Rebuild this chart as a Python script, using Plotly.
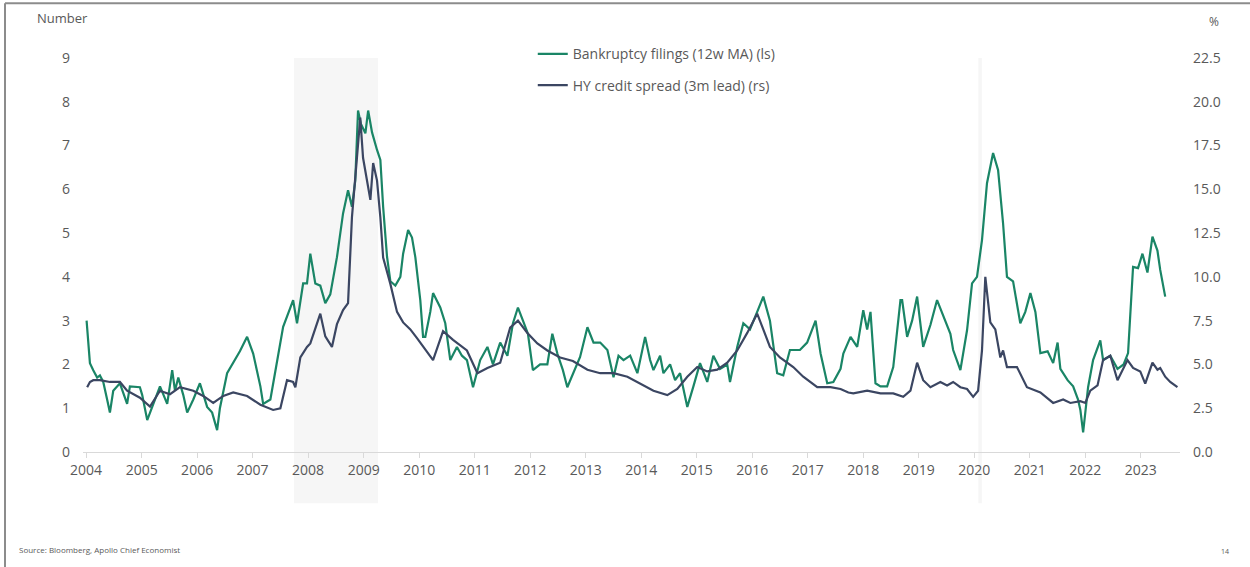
import pandas as pd
import plotly.graph_objects as go

# Bankruptcy filings, 12-week moving average (left axis, number); time in decimal years
filings_year = [
    2004.01, 2004.04, 2004.07, 2004.13, 2004.20, 2004.25, 2004.31, 2004.38, 2004.43, 2004.49,
    2004.61, 2004.74, 2004.79, 2004.97, 2005.01, 2005.10, 2005.21, 2005.33, 2005.46, 2005.55,
    2005.60, 2005.66, 2005.75, 2005.82, 2005.93, 2006.05, 2006.18, 2006.27, 2006.36, 2006.41,
    2006.54, 2006.65, 2006.77, 2006.90, 2007.01, 2007.14, 2007.19, 2007.32, 2007.44, 2007.55,
    2007.68, 2007.73, 2007.80, 2007.86, 2007.91, 2007.98, 2008.04, 2008.13, 2008.22, 2008.31,
    2008.40, 2008.52, 2008.63, 2008.72, 2008.79, 2008.85, 2008.90, 2008.95, 2009.03, 2009.08,
    2009.15, 2009.24, 2009.30, 2009.35, 2009.42, 2009.48, 2009.57, 2009.66, 2009.71, 2009.80,
    2009.87, 2009.93, 2010.02, 2010.07, 2010.11, 2010.20, 2010.25, 2010.38, 2010.47, 2010.56,
    2010.68, 2010.77, 2010.86, 2010.97, 2011.10, 2011.23, 2011.33, 2011.46, 2011.59, 2011.69,
    2011.78, 2011.87, 2011.96, 2012.05, 2012.18, 2012.31, 2012.40, 2012.49, 2012.59, 2012.67,
    2012.77, 2012.90, 2013.03, 2013.14, 2013.26, 2013.39, 2013.50, 2013.59, 2013.68, 2013.80,
    2013.93, 2014.07, 2014.16, 2014.22, 2014.34, 2014.40, 2014.52, 2014.61, 2014.70, 2014.83,
    2014.94, 2015.06, 2015.19, 2015.30, 2015.42, 2015.55, 2015.60, 2015.73, 2015.84, 2015.96,
    2016.09, 2016.20, 2016.32, 2016.45, 2016.56, 2016.68, 2016.86, 2016.99, 2017.14, 2017.23,
    2017.35, 2017.46, 2017.59, 2017.64, 2017.77, 2017.89, 2018.00, 2018.07, 2018.13, 2018.22,
    2018.31, 2018.43, 2018.54, 2018.67, 2018.70, 2018.79, 2018.88, 2018.97, 2019.08, 2019.21,
    2019.33, 2019.44, 2019.57, 2019.62, 2019.75, 2019.87, 2019.96, 2020.05, 2020.14, 2020.23,
    2020.34, 2020.43, 2020.52, 2020.59, 2020.70, 2020.83, 2020.92, 2021.01, 2021.10, 2021.19,
    2021.32, 2021.42, 2021.50, 2021.55, 2021.68, 2021.78, 2021.87, 2021.91, 2021.96, 2022.05,
    2022.14, 2022.27, 2022.32, 2022.45, 2022.58, 2022.69, 2022.77, 2022.86, 2022.95, 2023.03,
    2023.12, 2023.21, 2023.30, 2023.35, 2023.44,
]
filings_value = [
    3.00, 2.60, 2.03, 1.87, 1.70, 1.75, 1.60, 1.20, 0.90, 1.40,
    1.57, 1.10, 1.50, 1.48, 1.30, 0.73, 1.10, 1.50, 1.10, 1.87,
    1.40, 1.70, 1.30, 0.90, 1.20, 1.57, 1.03, 0.90, 0.50, 1.00,
    1.80, 2.03, 2.30, 2.63, 2.25, 1.50, 1.10, 1.20, 2.03, 2.86,
    3.30, 3.47, 2.94, 3.47, 3.85, 3.85, 4.53, 3.85, 3.80, 3.40,
    3.60, 4.45, 5.45, 5.98, 5.60, 6.20, 7.80, 7.50, 7.28, 7.80,
    7.30, 6.90, 6.67, 5.60, 4.46, 3.90, 3.80, 4.00, 4.53, 5.07,
    4.90, 4.45, 3.47, 2.63, 2.63, 3.20, 3.63, 3.30, 2.94, 2.10,
    2.40, 2.20, 2.10, 1.48, 2.10, 2.40, 2.00, 2.50, 2.20, 2.94,
    3.30, 3.00, 2.70, 1.87, 2.00, 2.00, 2.70, 2.25, 1.87, 1.48,
    1.80, 2.17, 2.85, 2.50, 2.50, 2.33, 1.71, 2.20, 2.10, 2.20,
    1.80, 2.63, 2.10, 1.87, 2.20, 1.80, 2.00, 1.64, 1.80, 1.03,
    1.50, 2.03, 1.60, 2.20, 1.90, 2.00, 1.60, 2.40, 2.94, 2.80,
    3.20, 3.55, 3.00, 1.80, 1.75, 2.33, 2.33, 2.50, 3.00, 2.25,
    1.57, 1.60, 1.90, 2.25, 2.63, 2.40, 3.24, 2.80, 3.20, 1.57,
    1.50, 1.50, 1.94, 3.47, 3.47, 2.63, 3.00, 3.55, 2.40, 2.90,
    3.47, 3.10, 2.70, 2.33, 1.87, 2.78, 3.85, 4.00, 4.84, 6.14,
    6.83, 6.44, 5.22, 4.00, 3.90, 2.94, 3.20, 3.63, 3.20, 2.26,
    2.30, 2.03, 2.50, 1.90, 1.64, 1.50, 1.19, 0.96, 0.45, 1.48,
    2.10, 2.55, 2.10, 2.20, 1.90, 2.00, 2.26, 4.23, 4.20, 4.53,
    4.10, 4.92, 4.60, 4.16, 3.55,
]

# High-yield credit spread, 3-month lead (right axis, %)
spread_year = [
    2004.02, 2004.07, 2004.13, 2004.25, 2004.43, 2004.61, 2004.74, 2004.97, 2005.15, 2005.33,
    2005.51, 2005.69, 2005.93, 2006.11, 2006.29, 2006.47, 2006.65, 2006.90, 2007.14, 2007.37,
    2007.50, 2007.62, 2007.73, 2007.77, 2007.86, 2007.98, 2008.04, 2008.13, 2008.22, 2008.31,
    2008.43, 2008.52, 2008.63, 2008.72, 2008.79, 2008.88, 2008.94, 2008.99, 2009.06, 2009.12,
    2009.17, 2009.24, 2009.30, 2009.35, 2009.48, 2009.60, 2009.71, 2009.84, 2009.96, 2010.07,
    2010.25, 2010.43, 2010.61, 2010.86, 2011.05, 2011.23, 2011.46, 2011.64, 2011.78, 2011.95,
    2012.13, 2012.31, 2012.54, 2012.77, 2013.03, 2013.26, 2013.50, 2013.75, 2013.99, 2014.22,
    2014.47, 2014.65, 2014.83, 2015.01, 2015.19, 2015.37, 2015.55, 2015.73, 2015.91, 2016.09,
    2016.20, 2016.32, 2016.50, 2016.74, 2016.92, 2017.17, 2017.41, 2017.59, 2017.73, 2017.82,
    2018.07, 2018.31, 2018.54, 2018.72, 2018.85, 2018.90, 2018.97, 2019.08, 2019.21, 2019.39,
    2019.51, 2019.62, 2019.75, 2019.87, 2019.98, 2020.07, 2020.14, 2020.20, 2020.29, 2020.38,
    2020.47, 2020.52, 2020.59, 2020.77, 2020.95, 2021.19, 2021.42, 2021.60, 2021.73, 2021.91,
    2022.00, 2022.09, 2022.22, 2022.32, 2022.45, 2022.58, 2022.76, 2022.86, 2022.99, 2023.08,
    2023.21, 2023.30, 2023.35, 2023.44, 2023.53, 2023.66,
]
spread_value = [
    3.7, 4.0, 4.1, 4.1, 4.0, 4.0, 3.5, 3.1, 2.6, 3.5,
    3.3, 3.7, 3.5, 3.2, 2.8, 3.2, 3.4, 3.2, 2.7, 2.4,
    2.5, 4.1, 4.0, 3.7, 5.4, 6.0, 6.2, 7.1, 7.9, 6.6,
    6.0, 7.3, 8.1, 8.5, 13.4, 16.8, 19.1, 16.8, 15.4, 14.4,
    16.5, 15.5, 13.4, 11.1, 9.6, 8.0, 7.4, 7.0, 6.5, 6.0,
    5.25, 6.9, 6.4, 5.8, 4.5, 4.8, 5.1, 7.1, 7.5, 6.8,
    6.2, 5.8, 5.4, 5.2, 4.7, 4.5, 4.5, 4.3, 3.9, 3.5,
    3.25, 3.6, 4.3, 4.85, 4.6, 4.7, 5.1, 5.8, 6.8, 7.9,
    7.0, 6.0, 5.4, 4.85, 4.3, 3.7, 3.7, 3.6, 3.4, 3.35,
    3.5, 3.35, 3.35, 3.15, 3.5, 4.1, 5.1, 4.1, 3.7, 4.0,
    3.8, 4.0, 3.7, 3.6, 3.15, 3.5, 5.8, 10.0, 7.4, 7.0,
    5.4, 5.8, 4.85, 4.85, 3.7, 3.4, 2.8, 3.0, 2.8, 2.9,
    2.8, 3.5, 3.8, 5.25, 5.5, 4.1, 5.25, 4.8, 4.6, 3.9,
    5.1, 4.7, 4.8, 4.3, 4.0, 3.7,
]

# Recession periods shaded behind the lines
recessions = [("2007-10-01", "2009-04-05"), ("2020-01-28", "2020-02-20")]

years = list(range(2004, 2024))

GREEN = "#1a8566"
NAVY = "#3b4662"
TEXT = "#595959"
FONT = "Open Sans"


def to_dates(decimal_years):
    out = []
    for t in decimal_years:
        y = int(t)
        start = pd.Timestamp(year=y, month=1, day=1)
        out.append(start + pd.Timedelta(days=(t - y) * 365.25))
    return out


fig = go.Figure()

fig.add_trace(go.Scatter(
    x=to_dates(filings_year), y=filings_value,
    name="Bankruptcy filings (12w MA) (ls)",
    mode="lines", line=dict(color=GREEN, width=2.2),
    legendgroup="a", yaxis="y",
))
fig.add_trace(go.Scatter(
    x=to_dates(spread_year), y=spread_value,
    name="HY credit spread (3m lead) (rs)",
    mode="lines", line=dict(color=NAVY, width=2.2),
    legendgroup="b", yaxis="y2",
))

for start, end in recessions:
    fig.add_shape(type="rect", xref="x", yref="paper", x0=start, x1=end,
                  y0=-0.13, y1=1.0, fillcolor="#f6f6f6", line_width=0, layer="below")

# slide frame
fig.add_shape(type="line", xref="paper", yref="paper", x0=-0.0711, x1=1.07, y0=1.139, y1=1.139,
              line=dict(color="#8c8c8c", width=2))
fig.add_shape(type="line", xref="paper", yref="paper", x0=-0.0711, x1=-0.0711, y0=1.139, y1=-0.3,
              line=dict(color="#8c8c8c", width=2))

fig.add_annotation(text="Number", xref="paper", yref="paper", x=-0.0438, y=1.1015,
                   xanchor="left", yanchor="middle", showarrow=False,
                   font=dict(family=FONT, size=13, color=TEXT))
fig.add_annotation(text="%", xref="paper", yref="paper", x=1.0246, y=1.0914,
                   xanchor="left", yanchor="middle", showarrow=False,
                   font=dict(family=FONT, size=12, color=TEXT))
fig.add_annotation(text="Source: Bloomberg, Apollo Chief Economist", xref="paper", yref="paper",
                   x=-0.0602, y=-0.2487, xanchor="left", yanchor="middle", showarrow=False,
                   font=dict(family=FONT, size=8, color=TEXT))
fig.add_annotation(text="14", xref="paper", yref="paper", x=1.0355, y=-0.2513,
                   xanchor="left", yanchor="middle", showarrow=False,
                   font=dict(family=FONT, size=7, color=TEXT))

fig.update_layout(
    width=1250, height=567,
    margin=dict(l=83, r=70, t=58, b=115),
    paper_bgcolor="white", plot_bgcolor="white",
    font=dict(family=FONT, size=14, color=TEXT),
    showlegend=True,
    legend=dict(x=0.41, y=1.05, xanchor="left", yanchor="top",
                bgcolor="rgba(0,0,0,0)", font=dict(family=FONT, size=14, color=TEXT),
                itemwidth=30, tracegroupgap=10, traceorder="grouped"),
    xaxis=dict(
        type="date", range=["2003-12-12", "2023-09-16"],
        tickvals=[pd.Timestamp(year=y, month=1, day=1) for y in years],
        ticktext=[str(y) for y in years],
        showline=True, linecolor="#d9d9d9", linewidth=1,
        ticks="outside", ticklen=5, tickcolor="#d9d9d9",
        showgrid=False, zeroline=False,
        tickfont=dict(family=FONT, size=14, color=TEXT),
    ),
    yaxis=dict(
        range=[0, 9], dtick=1, showgrid=False, zeroline=False, showline=False,
        ticklabelstandoff=12, tickfont=dict(family=FONT, size=14, color=TEXT),
    ),
    yaxis2=dict(
        range=[0, 22.5], dtick=2.5, tickformat=".1f", overlaying="y", side="right",
        showgrid=False, zeroline=False, showline=False,
        ticklabelstandoff=12, tickfont=dict(family=FONT, size=14, color=TEXT),
    ),
)

fig.write_html("out.html")
